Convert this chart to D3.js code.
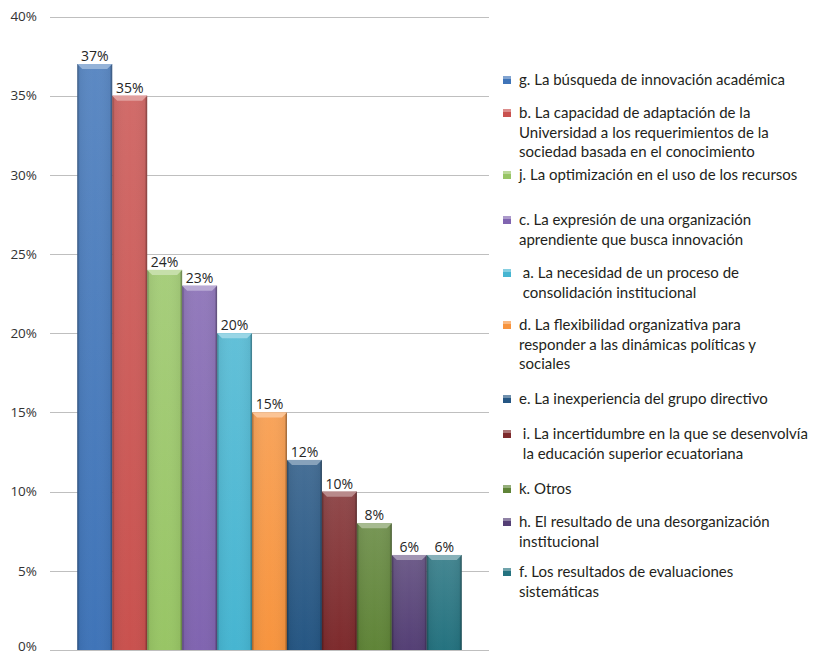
<!DOCTYPE html>
<html>
<head>
<meta charset="utf-8">
<script src="https://cdn.jsdelivr.net/npm/d3@7"></script>
<style>
	body { margin: 0; background: #fff; }
	svg text { font-family: "Open Sans", sans-serif; }
	svg .legend text { font-family: Lato, "Open Sans", sans-serif; }
</style>
</head>
<body>
<svg id="chart" width="815" height="656"></svg>
<script>
// data
const codes = ["g", "b", "j", "c", "a", "d", "e", "i", "k", "h", "f"];
const values = [37, 35, 24, 23, 20, 15, 12, 10, 8, 6, 6];
const colors = ["#3f74b8", "#c9514e", "#98c565", "#8064b0", "#46b5d1", "#f7943e",
	"#255683", "#7d2a2c", "#5f8437", "#543f75", "#24727f"];
const legendLabels = [
	["g. La búsqueda de innovación académica"],
	["b. La capacidad de adaptación de la", "Universidad a los requerimientos de la", "sociedad basada en el conocimiento"],
	["j. La optimización en el uso de los recursos"],
	["c. La expresión de una organización", "aprendiente que busca innovación"],
	[" a. La necesidad de un proceso de", " consolidación institucional"],
	["d. La flexibilidad organizativa para", "responder a las dinámicas políticas y", "sociales"],
	["e. La inexperiencia del grupo directivo"],
	[" i. La incertidumbre en la que se desenvolvía", " la educación superior ecuatoriana"],
	["k. Otros"],
	["h. El resultado de una desorganización", "institucional"],
	["f. Los resultados de evaluaciones", "sistemáticas"]
];
const yTicks = [0, 5, 10, 15, 20, 25, 30, 35, 40];

// layout
const legendTop = [80, 113, 175, 220, 273, 325, 399, 434, 489, 522, 572];
const lineH = 19.5;

const svg = d3.select("#chart");

const x = d3.scaleBand()
	.domain(codes)
	.range([50, 489])
	.paddingInner(0)
	.paddingOuter(0.78);

const y = d3.scaleLinear()
	.domain([0, 40])
	.range([650, 16.5]);

// gradients per bar
const defs = svg.append("defs");
codes.forEach((c, i) => {
	const base = d3.color(colors[i]);
	const g = defs.append("linearGradient")
		.attr("id", "vg-" + c)
		.attr("x1", 0).attr("y1", 0).attr("x2", 0).attr("y2", 1);
	g.append("stop").attr("offset", "0%").attr("stop-color", d3.interpolateRgb(base, "#fff")(0.15));
	g.append("stop").attr("offset", "100%").attr("stop-color", base);
});
const edge = defs.append("linearGradient")
	.attr("id", "edge")
	.attr("x1", 0).attr("y1", 0).attr("x2", 1).attr("y2", 0);
edge.append("stop").attr("offset", "0%").attr("stop-color", "#000").attr("stop-opacity", 0.35);
edge.append("stop").attr("offset", "7%").attr("stop-color", "#000").attr("stop-opacity", 0.05);
edge.append("stop").attr("offset", "50%").attr("stop-color", "#fff").attr("stop-opacity", 0.0);
edge.append("stop").attr("offset", "93%").attr("stop-color", "#000").attr("stop-opacity", 0.05);
edge.append("stop").attr("offset", "100%").attr("stop-color", "#000").attr("stop-opacity", 0.4);

// gridlines
svg.append("g")
	.selectAll("line")
	.data(yTicks)
	.join("line")
	.attr("x1", 50).attr("x2", 489)
	.attr("y1", d => Math.round(y(d)) + 0.5)
	.attr("y2", d => Math.round(y(d)) + 0.5)
	.attr("stroke", "#bfbfbf")
	.attr("stroke-width", 1);

svg.append("g")
	.selectAll("text")
	.data(yTicks)
	.join("text")
	.attr("x", 37)
	.attr("y", d => Math.min(y(d), 646))
	.attr("dy", "0.35em")
	.attr("text-anchor", "end")
	.attr("font-size", 13.5)
	.attr("fill", "#333")
	.text(d => d + "%");

// bars
const bars = svg.append("g")
	.selectAll("g")
	.data(codes.map((c, i) => ({ c, v: values[i], i })))
	.join("g");

bars.append("rect")
	.attr("x", d => x(d.c))
	.attr("y", d => y(d.v))
	.attr("width", x.bandwidth())
	.attr("height", d => y(0) - y(d.v))
	.attr("fill", d => `url(#vg-${d.c})`);

bars.append("rect")
	.attr("x", d => x(d.c))
	.attr("y", d => y(d.v))
	.attr("width", x.bandwidth())
	.attr("height", d => y(0) - y(d.v))
	.attr("fill", "url(#edge)");

// top bevel
bars.append("path")
	.attr("d", d => {
		const x0 = x(d.c), x1 = x0 + x.bandwidth(), t = y(d.v), b = 5;
		return `M${x0},${t}L${x1},${t}L${x1 - b},${t + b}L${x0 + b},${t + b}Z`;
	})
	.attr("fill", d => d3.interpolateRgb(colors[d.i], "#fff")(0.45));

// value labels
bars.append("text")
	.attr("x", d => x(d.c) + x.bandwidth() / 2)
	.attr("y", d => y(d.v) - 3)
	.attr("text-anchor", "middle")
	.attr("font-size", 14)
	.attr("fill", "#262626")
	.text(d => d.v + "%");

// legend
const legend = svg.append("g")
	.attr("class", "legend")
	.selectAll("g")
	.data(legendLabels.map((lines, i) => ({ lines, i })))
	.join("g")
	.attr("transform", d => `translate(0,${legendTop[d.i]})`);

legend.append("rect")
	.attr("x", 503).attr("y", -4)
	.attr("width", 8).attr("height", 8)
	.attr("fill", d => colors[d.i]);

legend.append("rect")
	.attr("x", 503).attr("y", -4)
	.attr("width", 8).attr("height", 3)
	.attr("fill", "#fff").attr("fill-opacity", 0.35);

legend.append("text")
	.attr("font-size", 15)
	.attr("fill", "#231f20")
	.attr("xml:space", "preserve")
	.style("white-space", "pre")
	.selectAll("tspan")
	.data(d => d.lines)
	.join("tspan")
	.attr("x", 519)
	.attr("y", (d, j) => j * lineH)
	.attr("dy", "0.35em")
	.text(d => d);
</script>
</body>
</html>
